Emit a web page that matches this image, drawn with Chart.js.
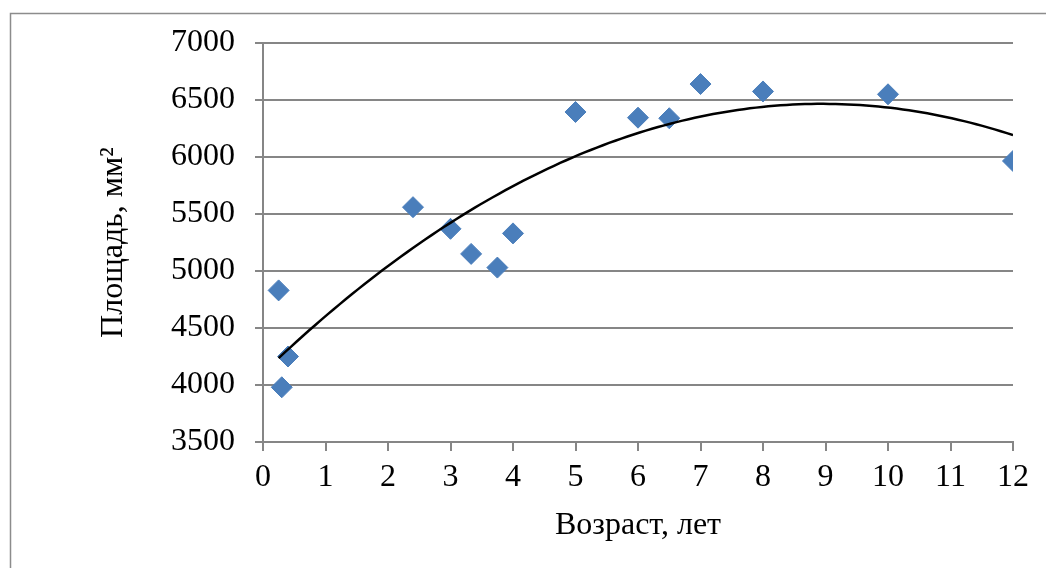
<!doctype html>
<html>
<head>
  <meta charset="utf-8">
  <script src="https://cdn.jsdelivr.net/npm/chart.js"></script>
  <style>
    html, body { margin: 0; padding: 0; background: #fff; }
    #wrap { position: relative; width: 1046px; height: 568px; }
  </style>
</head>
<body>
  <div id="wrap"><canvas id="areaChart" width="1046" height="568"></canvas></div>
  <script>
    // возраст (лет) и площадь (мм2)
    var ages = [0.25, 0.3, 0.4, 2.4, 3.0, 3.33, 3.75, 4.0, 5.0, 6.0, 6.5, 7.0, 8.0, 10.0, 12.0];
    var areas = [4830, 3980, 4250, 5560, 5370, 5150, 5030, 5330, 6395, 6345, 6340, 6640, 6575, 6550, 5965];
    var xTicks = [0, 1, 2, 3, 4, 5, 6, 7, 8, 9, 10, 11, 12];
    var yTicks = [3500, 4000, 4500, 5000, 5500, 6000, 6500, 7000];

    // polynomial (2nd order) trendline, least squares like in Excel
    function fitQuad(xs, ys) {
      var s = [0, 0, 0, 0, 0], t = [0, 0, 0];
      for (var i = 0; i < xs.length; i++) {
        var p = 1;
        for (var k = 0; k < 5; k++) { s[k] += p; if (k < 3) t[k] += p * ys[i]; p *= xs[i]; }
      }
      var m = [[s[0], s[1], s[2], t[0]], [s[1], s[2], s[3], t[1]], [s[2], s[3], s[4], t[2]]];
      for (var c = 0; c < 3; c++) {
        for (var r = c + 1; r < 3; r++) {
          var f = m[r][c] / m[c][c];
          for (var j = c; j < 4; j++) m[r][j] -= f * m[c][j];
        }
      }
      var b = [0, 0, 0];
      for (var r2 = 2; r2 >= 0; r2--) {
        var v = m[r2][3];
        for (var j2 = r2 + 1; j2 < 3; j2++) v -= m[r2][j2] * b[j2];
        b[r2] = v / m[r2][r2];
      }
      return b;
    }
    var coef = fitQuad(ages, areas);
    var trend = [];
    var x0 = Math.min.apply(null, ages), x1 = Math.max.apply(null, ages);
    for (var n = 0; n <= 120; n++) {
      var xv = x0 + (x1 - x0) * n / 120;
      trend.push({ x: xv, y: coef[0] + coef[1] * xv + coef[2] * xv * xv });
    }

    var frame = {
      id: 'frame',
      beforeDraw: function (chart) {
        var c = chart.ctx;
        c.save();
        c.strokeStyle = '#8c8c8c';
        c.lineWidth = 1.5;
        c.strokeRect(10.5, 13.5, 1100, 600);
        c.restore();
      }
    };

    var serif = 'Liberation Serif, Times New Roman, serif';
    var ctx = document.getElementById('areaChart').getContext('2d');
    var areaChart = new Chart(ctx, {
      type: 'scatter',
      data: {
        datasets: [{
          label: 'Площадь',
          data: ages.map(function (a, i) { return { x: a, y: areas[i] }; }),
          pointStyle: 'rectRot',
          pointRadius: 10.5,
          pointHoverRadius: 10.5,
          backgroundColor: '#4a7ebb',
          borderColor: '#4a7ebb',
          borderWidth: 1,
          order: 2
        }, {
          label: 'Тренд',
          data: trend,
          showLine: true,
          pointRadius: 0,
          borderColor: '#000',
          borderWidth: 2.5,
          fill: false,
          order: 1
        }]
      },
      options: {
        responsive: false,
        animation: false,
        layout: { padding: { left: 0, top: 43, right: 33, bottom: 0 } },
        plugins: { legend: { display: false }, tooltip: { enabled: false } },
        scales: {
          x: {
            type: 'linear',
            min: 0, max: 12,
            afterBuildTicks: function (s) { s.ticks = xTicks.map(function (v) { return { value: v }; }); },
            afterFit: function (s) { s.height = 126; },
            grid: { drawOnChartArea: false, drawTicks: true, tickLength: 9, color: '#868686', lineWidth: 2 },
            border: { color: '#868686', width: 2 },
            ticks: { color: '#000', padding: 7, font: { family: serif, size: 32 }, maxRotation: 0,
              callback: function (v) { return String(v); } },
            title: { display: true, text: 'Возраст, лет', color: '#000', font: { family: serif, size: 32 }, padding: { top: 0, bottom: 23 } }
          },
          y: {
            type: 'linear',
            min: 3500, max: 7000,
            afterBuildTicks: function (s) { s.ticks = yTicks.map(function (v) { return { value: v }; }); },
            afterFit: function (s) { s.width = 263; },
            grid: { color: '#868686', lineWidth: 2, tickLength: 8 },
            border: { color: '#868686', width: 2 },
            ticks: { color: '#000', padding: 20, font: { family: serif, size: 32 },
              callback: function (v) { return String(v); } },
            title: { display: true, text: 'Площадь, мм²', color: '#000', font: { family: serif, size: 32 }, padding: { top: 94, bottom: 0 } }
          }
        }
      },
      plugins: [frame]
    });
  </script>
</body>
</html>
